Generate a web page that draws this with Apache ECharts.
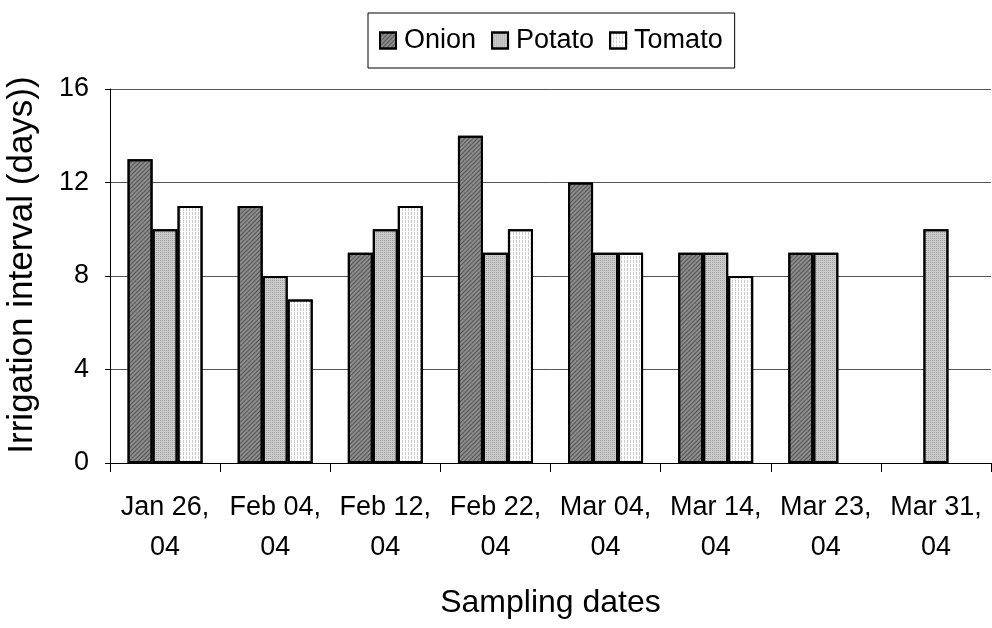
<!DOCTYPE html>
<html>
<head>
<meta charset="utf-8">
<script src="https://cdn.jsdelivr.net/npm/echarts@6/dist/echarts.min.js"></script>
<style>
html,body{margin:0;padding:0;background:#fff;}
#chart{width:992px;height:628px;}
</style>
</head>
<body>
<div id="chart"></div>
<script>
var categories = ['Jan 26,\n04','Feb 04,\n04','Feb 12,\n04','Feb 22,\n04','Mar 04,\n04','Mar 14,\n04','Mar 23,\n04','Mar 31,\n04'];
var onion  = [13, 11, 9, 14, 12, 9, 9, null];
var potato = [10, 8, 10, 9, 9, 9, 9, 10];
var tomato = [11, 7, 11, 10, 9, 8, null, null];
var yTicks = [0, 4, 8, 12, 16];

var FONT = '"Liberation Sans", Arial, sans-serif';
var chart = echarts.init(document.getElementById('chart'), null, {renderer:'canvas'});

function mkSeries(name, data, color, decal){
  return {
    name: name, type: 'bar', data: data,
    barWidth: 25, barGap: '0%',
    itemStyle: {color: color, borderColor: '#000', borderWidth: 2, decal: decal},
    emphasis: {disabled: true}
  };
}

chart.setOption({
  animation: false,
  backgroundColor: '#fff',
  grid: {left: 110, right: 1, top: 89, height: 374, containLabel: false, outerBoundsMode: 'none'},
  legend: {
    left: 368, top: 13,
    padding: [14, 12, 14, 11],
    borderColor: '#000', borderWidth: 1,
    itemWidth: 16, itemHeight: 16, itemGap: 15,
    icon: 'rect',
    textStyle: {fontFamily: FONT, fontSize: 27, color: '#000', padding: [0,0,0,3]},
    data: ['Onion','Potato','Tomato']
  },
  xAxis: {
    type: 'category', data: categories,
    boundaryGap: true,
    axisLine: {lineStyle: {color: '#000', width: 1}},
    axisTick: {show: true, length: 9, lineStyle: {color: '#000'}},
    axisLabel: {fontFamily: FONT, fontSize: 27, color: '#000', lineHeight: 40, margin: 25, interval: 0},
    name: 'Sampling dates', nameLocation: 'middle', nameGap: 124,
    nameTextStyle: {fontFamily: FONT, fontSize: 32, color: '#000'}
  },
  yAxis: {
    type: 'value', min: yTicks[0], max: yTicks[yTicks.length-1], interval: 4,
    axisLine: {show: true, lineStyle: {color: '#000', width: 1}},
    axisTick: {show: true, length: 5, lineStyle: {color: '#000'}},
    splitLine: {show: true, lineStyle: {color: '#555', width: 1}},
    axisLabel: {fontFamily: FONT, fontSize: 27, color: '#000', margin: 21},
    name: 'Irrigation interval (days))', nameLocation: 'middle', nameGap: 70,
    nameTextStyle: {fontFamily: FONT, fontSize: 35, color: '#000', padding: [0, 0, 0, 22]}
  },
  series: [
    mkSeries('Onion', onion, '#8c8c8c', {symbol:'rect', symbolSize:1, color:'rgba(0,0,0,0.4)', dashArrayX:[1,0], dashArrayY:[1,2], rotation:-Math.PI/4}),
    mkSeries('Potato', potato, '#cbcbcb', {symbol:'rect', symbolSize:1, color:'rgba(0,0,0,0.2)', dashArrayX:[1,1], dashArrayY:[1,1], rotation:0}),
    mkSeries('Tomato', tomato, '#ffffff', {symbol:'rect', symbolSize:1, color:'rgba(0,0,0,0.2)', dashArrayX:[1,2], dashArrayY:[3,1], rotation:0})
  ]
});
</script>
</body>
</html>
